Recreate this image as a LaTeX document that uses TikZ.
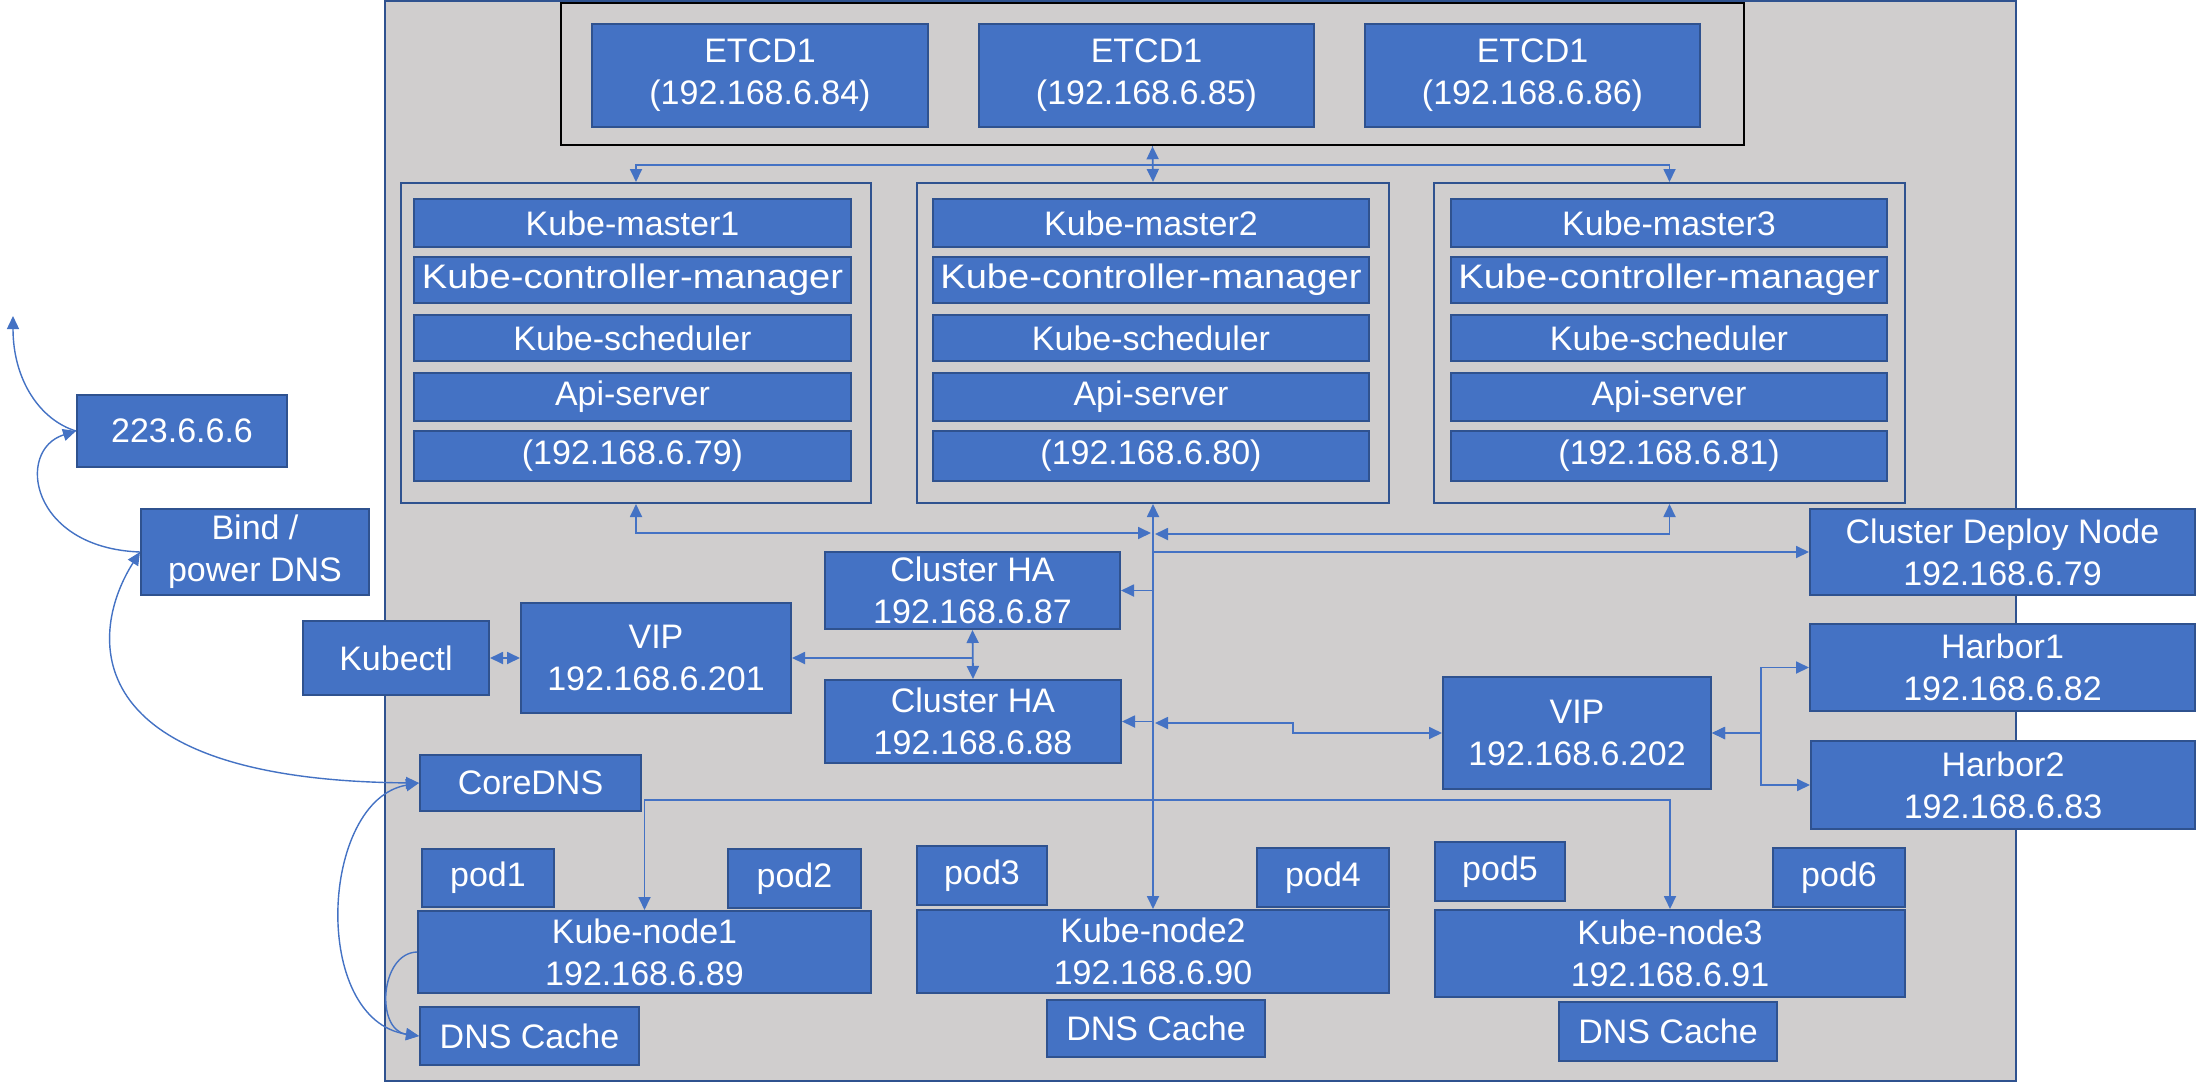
\documentclass[tikz,border=0pt]{standalone}
\usepackage{fontspec}
\setmainfont{Liberation Sans}
\usetikzlibrary{arrows.meta}
\definecolor{boxfill}{HTML}{4472C4}
\definecolor{boxline}{HTML}{2F528F}
\definecolor{panelfill}{HTML}{D0CECE}
\newcommand{\rbox}[7][box]{%
  \pgfmathsetmacro{\bcx}{(#3+#5)/2}\pgfmathsetmacro{\bcy}{(#4+#6)/2}%
  \pgfmathsetmacro{\bw}{#5-#3}\pgfmathsetmacro{\bh}{#6-#4}%
  \node[#1,minimum width=\bw pt,minimum height=\bh pt] (#2) at (\bcx,\bcy) {#7};}
\begin{document}
\begin{tikzpicture}[x=1pt,y=-1pt,
  box/.style={draw=boxline, fill=boxfill, line width=2pt, text=white,
    font=\fontsize{34}{42}\selectfont, inner sep=0pt, align=center},
  panel/.style={draw=boxline, fill=panelfill, line width=2pt, inner sep=0pt},
  etcdbox/.style={draw=black, line width=2.5pt, inner sep=0pt},
  holder/.style={draw=boxline, line width=2pt, inner sep=0pt},
  conn/.style={draw=boxfill, line width=1.8pt, >={Triangle[length=13pt,width=12pt]}},
  curve/.style={draw=boxfill, line width=1.4pt, >={Triangle[length=13pt,width=12pt]}}]
\useasboundingbox (0,0) rectangle (2198,1082);
\fill[white] (0,0) rectangle (2198,1082);

% background panel
\rbox[panel]{panel}{385}{1}{2016}{1081}{}

% etcd group
\rbox[etcdbox]{etcd}{561}{3}{1744}{145}{}
\rbox{e1}{592}{24}{928}{127}{ETCD1\\(192.168.6.84)}
\rbox{e2}{979}{24}{1314}{127}{ETCD1\\(192.168.6.85)}
\rbox{e3}{1365}{24}{1700}{127}{ETCD1\\(192.168.6.86)}

% master groups
\rbox[holder]{m1}{401}{183}{871}{503}{}
\rbox[holder]{m2}{917}{183}{1389}{503}{}
\rbox[holder]{m3}{1434}{183}{1905}{503}{}
\foreach \i/\xa/\xb/\ip in {1/414/851/79, 2/933/1369/80, 3/1451/1887/81} {
  \rbox{m\i-a}{\xa}{199}{\xb}{247}{Kube-master\i}
  \rbox{m\i-b}{\xa}{257}{\xb}{303}{\scalebox{1.12}[1]{Kube-controller-manager}}
  \rbox{m\i-c}{\xa}{315}{\xb}{361}{Kube-scheduler}
  \rbox{m\i-d}{\xa}{373}{\xb}{421}{Api-server}
  \rbox{m\i-e}{\xa}{431}{\xb}{481}{(192.168.6.\ip)}
}

% outside and middle boxes
\rbox{ext}{77}{395}{287}{467}{223.6.6.6}
\rbox{bind}{141}{509}{369}{595}{Bind /\\power DNS}
\rbox{kubectl}{303}{621}{489}{695}{Kubectl}
\rbox{vip1}{521}{603}{791}{713}{VIP\\192.168.6.201}
\rbox{ha1}{825}{552}{1120}{629}{Cluster HA\\192.168.6.87}
\rbox{ha2}{825}{680}{1121}{763}{Cluster HA\\192.168.6.88}
\rbox{cdn}{1810}{509}{2195}{595}{Cluster Deploy Node\\192.168.6.79}
\rbox{vip2}{1443}{677}{1711}{789}{VIP\\192.168.6.202}
\rbox{harbor1}{1810}{624}{2195}{711}{Harbor1\\192.168.6.82}
\rbox{harbor2}{1811}{741}{2195}{829}{Harbor2\\192.168.6.83}
\rbox{coredns}{420}{755}{641}{811}{CoreDNS}

% worker nodes
\rbox{pod1}{422}{849}{554}{907}{pod1}
\rbox{pod2}{728}{849}{861}{908}{pod2}
\rbox{node1}{418}{911}{871}{993}{Kube-node1\\192.168.6.89}
\rbox{dns1}{420}{1007}{639}{1065}{DNS Cache}
\rbox{pod3}{917}{846}{1047}{905}{pod3}
\rbox{pod4}{1257}{848}{1389}{907}{pod4}
\rbox{node2}{917}{910}{1389}{993}{Kube-node2\\192.168.6.90}
\rbox{dns2}{1047}{1000}{1265}{1057}{DNS Cache}
\rbox{pod5}{1435}{842}{1565}{901}{pod5}
\rbox{pod6}{1773}{848}{1905}{907}{pod6}
\rbox{node3}{1435}{910}{1905}{997}{Kube-node3\\192.168.6.91}
\rbox{dns3}{1559}{1002}{1777}{1061}{DNS Cache}

% free ends
\coordinate (inet) at (13,316);
\coordinate (busL) at (1151,533);
\coordinate (busR) at (1155,534);
\coordinate (busV) at (1155,723);
\coordinate (busS) at (1153,800);

% etcd to masters
\draw[conn,<->] (etcd.south) -- (m2.north);
\draw[conn,->] (etcd.south) -- ++(0,19) -| (m1.north);
\draw[conn,->] (etcd.south) -- ++(0,19) -| (m3.north);

% masters to central line
\draw[conn,<->] (m2.south) -- (node2.north);
\draw[conn,<->] (m1.south) |- (busL);
\draw[conn,<->] (m3.south) |- (busR);
\draw[conn,->] (m2.south |- cdn.west) -- (cdn.west);
\draw[conn,->] (m2.south |- ha1.east) -- (ha1.east);
\draw[conn,->] (m2.south |- ha2.east) -- (ha2.east);
\draw[conn,<->] (vip2.west) -- ++(-149,0) |- (busV);
\draw[conn,->] (busS) -| (node1.north);
\draw[conn,->] (busS) -| (node3.north);

% VIP connections
\draw[conn,<->] (kubectl.east) -- (vip1.west);
\draw[conn,<->] (ha1.south) -- (ha2.north);
\draw[conn,->] (ha1.south |- vip1.east) -- (vip1.east);
\draw[conn,<->] (vip2.east) -- ++(49,0) |- (harbor1.west);
\draw[conn,<->] (vip2.east) -- ++(49,0) |- (harbor2.west);

% DNS curves
\draw[curve,->] (ext.west) .. controls (40,420) and (13,380) .. (inet);
\draw[curve,->] (bind.west) .. controls (30,548) and (15,450) .. (ext.west);
\draw[curve,<->] (bind.west) .. controls (90,630) and (70,780) .. (coredns.west);
\draw[curve,<->] (coredns.west) .. controls (320,800) and (310,1020) .. (dns1.west);
\draw[curve,->] (node1.west) .. controls (380,953) and (375,1030) .. (dns1.west);
\end{tikzpicture}
\end{document}
